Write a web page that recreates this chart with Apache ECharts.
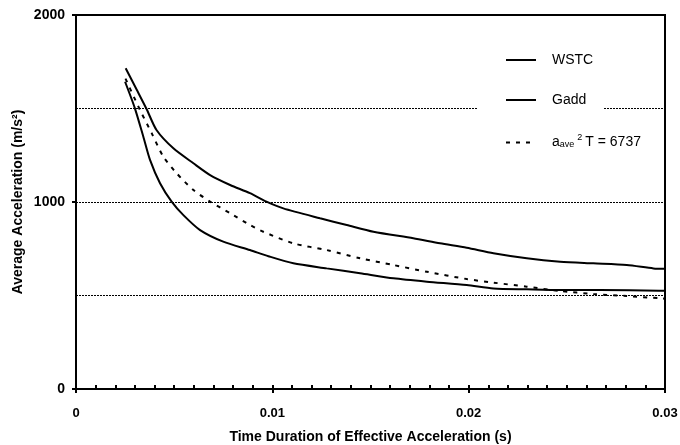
<!DOCTYPE html>
<html>
<head>
<meta charset="utf-8">
<script src="https://cdn.jsdelivr.net/npm/echarts@6/dist/echarts.min.js"></script>
<style>
  html, body { margin: 0; padding: 0; background: #fff; }
  #container { width: 680px; height: 445px; }
</style>
</head>
<body>
<div id="container"></div>
<script>
// values
var seriesNames = ['WSTC', 'Gadd', 'aave2T'];

var timeWSTC = [0.00253, 0.0031, 0.0036, 0.0041, 0.00496, 0.00598, 0.00683, 0.00785, 0.00886, 0.0097, 0.01056, 0.01243, 0.01379, 0.01515, 0.01718, 0.01854, 0.0199, 0.02126, 0.02296, 0.02466, 0.02635, 0.02805, 0.02941, 0.03];
var accWSTC = [1715, 1599, 1496, 1385, 1287, 1207, 1144, 1091, 1047, 1002, 966, 913, 877, 841, 806, 779, 755, 726, 699, 681, 672, 663, 645, 643];

var timeGadd = [0.0025, 0.0030, 0.00343, 0.00377, 0.00428, 0.00487, 0.00547, 0.00632, 0.0075, 0.00886, 0.0098, 0.01107, 0.01277, 0.01447, 0.01617, 0.01787, 0.0199, 0.02126, 0.02296, 0.02466, 0.0267, 0.0297, 0.03];
var accGadd = [1643, 1501, 1349, 1225, 1100, 1002, 930, 850, 788, 743, 710, 672, 645, 619, 592, 574, 556, 538, 533, 529, 529, 526, 526];

var timeFit = [0.00252, 0.00326, 0.00386, 0.00445, 0.00513, 0.00598, 0.00683, 0.00785, 0.00886, 0.00954, 0.01107, 0.01277, 0.01447, 0.01617, 0.01787, 0.0199, 0.02126, 0.02296, 0.02466, 0.02635, 0.02805, 0.02975, 0.03];
var accFit = [1660, 1492, 1367, 1242, 1153, 1064, 1002, 940, 877, 841, 779, 743, 699, 663, 627, 588, 569, 547, 524, 508, 497, 485, 483];

var xTicks = [0, 0.01, 0.02, 0.03];
var yTicks = [0, 1000, 2000];

var font = 'Liberation Sans, Arial, sans-serif';

function pairs(xs, ys) {
    var out = [];
    for (var i = 0; i < xs.length; i++) out.push([xs[i], ys[i]]);
    return out;
}

var option = {
    backgroundColor: '#fff',
    animation: false,
    grid: {
        left: 76, right: 15, top: 15, bottom: 56,
        outerBoundsMode: 'none',
        show: true, borderColor: '#000', borderWidth: 2
    },
    graphic: [{
        // legend area hides the 1500 gridline, like the original
        type: 'rect', z: 10,
        shape: { x: 477, y: 96, width: 126, height: 22 },
        style: { fill: '#fff' }
    }],
    legend: {
        z: 20,
        orient: 'vertical',
        left: 505, top: 53,
        padding: 0,
        itemWidth: 30, itemHeight: 14, itemGap: 26,
        data: seriesNames,
        itemStyle: { color: 'transparent', borderWidth: 0 },
        textStyle: {
            fontFamily: font, fontSize: 14, color: '#000',
            padding: [0, 0, 0, 11],
            rich: {
                a: { fontFamily: font, fontSize: 14, color: '#000' },
                s: { fontFamily: font, fontSize: 9, color: '#000', padding: [5, 0, 0, 0] },
                p: { fontFamily: font, fontSize: 9, color: '#000', padding: [0, 3, 10, 3] }
            }
        },
        formatter: function (name) {
            if (name === 'aave2T') return '{a|a}{s|ave}{p|2}{a|T = 6737}';
            return name;
        }
    },
    xAxis: [{
        type: 'value', position: 'bottom',
        min: xTicks[0], max: xTicks[xTicks.length - 1], interval: 0.01,
        name: 'Time Duration of Effective Acceleration (s)',
        nameLocation: 'middle', nameGap: 41, nameMoveOverlap: false,
        nameTextStyle: { fontFamily: font, fontSize: 14, fontWeight: 'bold', color: '#000' },
        axisLine: { lineStyle: { color: '#000', width: 2 } },
        axisTick: { length: 4, lineStyle: { color: '#000', width: 2 } },
        axisLabel: {
            margin: 18, fontFamily: font, fontSize: 13, fontWeight: 'bold', color: '#000',
            formatter: function (v) { return String(+v.toFixed(2)); }
        },
        splitLine: { show: false }
    }, {
        // inside minor ticks
        type: 'value', position: 'bottom',
        min: 0, max: 0.03, interval: 0.001,
        axisLine: { show: false },
        axisTick: { inside: true, length: 4, lineStyle: { color: '#000', width: 2 } },
        axisLabel: { show: false },
        splitLine: { show: false }
    }],
    yAxis: [{
        type: 'value', position: 'left',
        min: yTicks[0], max: yTicks[yTicks.length - 1], interval: 1000,
        name: 'Average Acceleration (m/s²)',
        nameLocation: 'middle', nameGap: 51, nameMoveOverlap: false,
        nameTextStyle: { fontFamily: font, fontSize: 14, fontWeight: 'bold', color: '#000' },
        axisLine: { lineStyle: { color: '#000', width: 2 } },
        axisTick: { length: 4, lineStyle: { color: '#000', width: 2 } },
        axisLabel: {
            margin: 11, fontFamily: font, fontSize: 14, fontWeight: 'bold', color: '#000',
            formatter: function (v) { return String(v); }
        },
        splitLine: { show: false }
    }, {
        // dotted gridlines every 500
        type: 'value', position: 'left',
        min: 0, max: 2000, interval: 500,
        axisLine: { show: false }, axisTick: { show: false }, axisLabel: { show: false },
        splitLine: { show: true, lineStyle: { color: '#000', width: 1, type: [2, 1] } }
    }],
    series: [{
        name: seriesNames[0], type: 'line', xAxisIndex: 0, yAxisIndex: 0,
        data: pairs(timeWSTC, accWSTC), symbol: 'none', smooth: 0.25, z: 3,
        lineStyle: { color: '#000', width: 2 }, itemStyle: { color: '#000' }
    }, {
        name: seriesNames[1], type: 'line', xAxisIndex: 0, yAxisIndex: 0,
        data: pairs(timeGadd, accGadd), symbol: 'none', smooth: 0.25, z: 3,
        lineStyle: { color: '#000', width: 2 }, itemStyle: { color: '#000' }
    }, {
        name: seriesNames[2], type: 'line', xAxisIndex: 0, yAxisIndex: 0,
        data: pairs(timeFit, accFit), symbol: 'none', smooth: 0.25, z: 3,
        lineStyle: { color: '#000', width: 2, type: [4, 6] }, itemStyle: { color: '#000' }
    }]
};

var myChart = echarts.init(document.getElementById('container'));
myChart.setOption(option);
</script>
</body>
</html>
